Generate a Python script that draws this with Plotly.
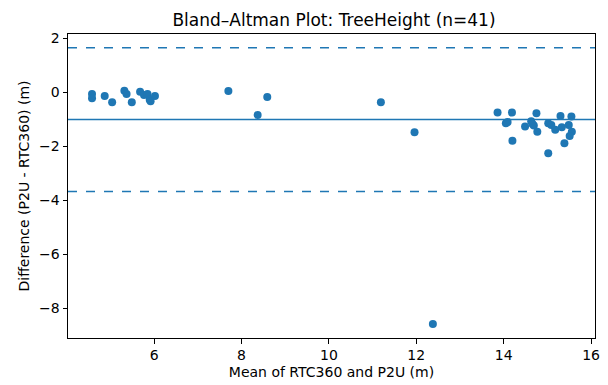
import plotly.graph_objects as go

# Mean of RTC360 and P2U (m)
mean_vals = [
    4.58, 4.58, 4.87, 5.04, 5.32, 5.37, 5.49, 5.68, 5.77, 5.85, 5.90, 6.02, 5.92,
    7.70, 8.59, 8.37, 11.19, 11.96, 12.38,
    13.86, 14.19, 14.05, 14.09, 14.20, 14.49, 14.63, 14.69, 14.66, 14.77, 14.75,
    15.02, 15.09, 15.18, 15.02, 15.30, 15.33, 15.39, 15.55, 15.49, 15.56, 15.51,
]
# Difference (P2U - RTC360) (m)
diff_vals = [
    -0.06, -0.22, -0.14, -0.37, 0.06, -0.06, -0.37, 0.02, -0.10, -0.06, -0.28, -0.14, -0.33,
    0.05, -0.18, -0.84, -0.37, -1.48, -8.57,
    -0.75, -0.75, -1.15, -1.10, -1.79, -1.27, -1.07, -1.23, -1.17, -1.46, -0.78,
    -1.15, -1.21, -1.39, -2.26, -0.88, -1.29, -1.89, -0.90, -1.21, -1.46, -1.62,
]
mean_diff = -1.01
upper_loa = 1.65
lower_loa = -3.67
x_ticks = [6, 8, 10, 12, 14, 16]
y_ticks = [-8, -6, -4, -2, 0, 2]

blue = "#1f77b4"
font = "DejaVu Sans"

fig = go.Figure()
fig.add_trace(go.Scatter(
    x=mean_vals, y=diff_vals, mode="markers",
    marker=dict(color=blue, size=8, line=dict(width=0)),
    showlegend=False,
))

for yv, dash in [(mean_diff, "solid"), (upper_loa, "dash"), (lower_loa, "dash")]:
    fig.add_shape(type="line", xref="paper", x0=0, x1=1, yref="y", y0=yv, y1=yv,
                  line=dict(color=blue, width=1.5, dash=dash))

axis_common = dict(
    showline=True, linecolor="black", linewidth=1, mirror=True,
    ticks="outside", ticklen=4.5, tickwidth=1, tickcolor="black",
    showgrid=False, zeroline=False,
    tickfont=dict(family=font, size=14, color="black"),
)

fig.update_layout(
    width=608, height=385,
    margin=dict(l=68, r=8, t=34, b=47),
    paper_bgcolor="white", plot_bgcolor="white",
    title=dict(text="Bland–Altman Plot: TreeHeight (n=41)",
               font=dict(family=font, size=17, color="black"),
               x=334 / 608, xanchor="center",
               y=1 - 20 / 385, yanchor="middle"),
    xaxis=dict(range=[4.03, 16.09], tickvals=x_ticks,
               title=dict(text="Mean of RTC360 and P2U (m)",
                          font=dict(family=font, size=14, color="black"), standoff=4),
               **axis_common),
    yaxis=dict(range=[-9.09, 2.155], tickvals=y_ticks,
               title=dict(text="Difference (P2U - RTC360) (m)",
                          font=dict(family=font, size=14, color="black"), standoff=6),
               **axis_common),
)

fig.write_html("out.html")
